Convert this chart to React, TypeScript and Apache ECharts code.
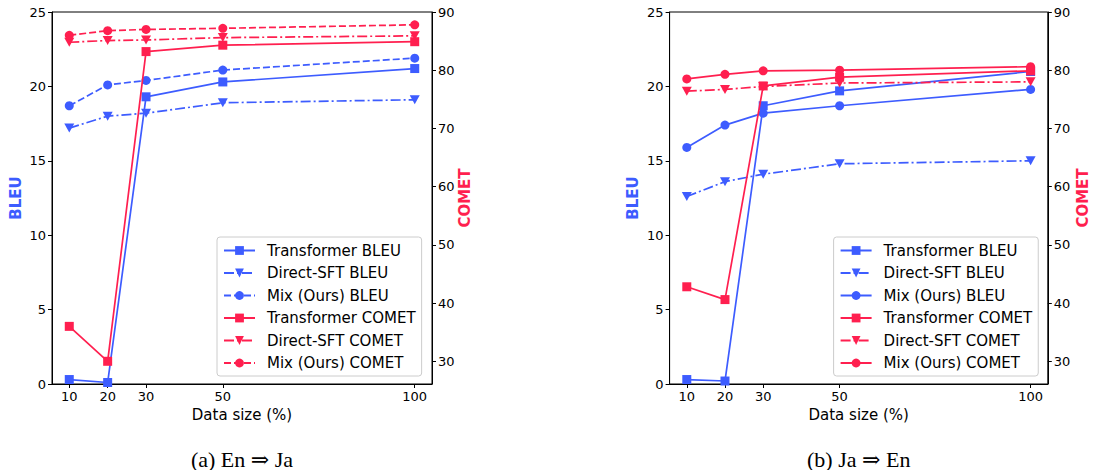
import React, { useEffect, useRef } from 'react';
import * as echarts from 'echarts';

// ---------- data ----------
const dataSizes = [10, 20, 30, 50, 100];
const xTickValues = [10, 20, 30, 50, 100];
const cometTickValues = [30, 40, 50, 60, 70, 80, 90];

const seriesNames = [
  'Transformer BLEU',
  'Direct-SFT BLEU',
  'Mix (Ours) BLEU',
  'Transformer COMET',
  'Direct-SFT COMET',
  'Mix (Ours) COMET',
];

// (a) En => Ja
const enJaTransformerBleu = [0.3, 0.1, 19.3, 20.3, 21.2];
const enJaDirectSftBleu = [17.2, 18.0, 18.2, 18.9, 19.1];
const enJaMixBleu = [18.7, 20.1, 20.4, 21.1, 21.9];
const enJaTransformerComet = [36.0, 30.0, 83.2, 84.3, 84.9];
const enJaDirectSftComet = [84.8, 85.1, 85.2, 85.6, 85.9];
const enJaMixComet = [86.0, 86.8, 87.0, 87.2, 87.8];

// (b) Ja => En
const jaEnTransformerBleu = [0.3, 0.2, 18.7, 19.7, 21.0];
const jaEnDirectSftBleu = [12.6, 13.6, 14.1, 14.8, 15.0];
const jaEnMixBleu = [15.9, 17.4, 18.2, 18.7, 19.8];
const jaEnTransformerComet = [42.8, 40.6, 77.3, 78.8, 79.9];
const jaEnDirectSftComet = [76.4, 76.7, 77.2, 77.8, 78.0];
const jaEnMixComet = [78.5, 79.3, 79.9, 80.0, 80.6];

// ---------- styles ----------
const BLUE = '#3d5cff';
const RED = '#ff1f4f';
const FONT = "'DejaVu Sans', sans-serif";
const SOLID: any = 'solid';
const DASHED: any = [7, 3];
const DASHDOT: any = [10, 3, 2, 3];
const DOWN_TRI = 'path://M0,0 L10,0 L5,9 Z';

type PanelCfg = {
  gridLeft: number;
  gridWidth: number;
  bleuLabelX: number;
  cometLabelX: number;
  legendLeft: number;
  caption: string;
  values: number[][];
  mixBleuStyle: any;
  mixCometStyle: any;
};

function makeOption(cfg: PanelCfg) {
  const cx = cfg.gridLeft + cfg.gridWidth / 2;
  const styles = [
    { color: BLUE, type: SOLID, symbol: 'rect', size: 9, axis: 0 },
    { color: BLUE, type: DASHDOT, symbol: DOWN_TRI, size: [10, 9], axis: 0 },
    { color: BLUE, type: cfg.mixBleuStyle, symbol: 'circle', size: 9, axis: 0 },
    { color: RED, type: SOLID, symbol: 'rect', size: 9, axis: 1 },
    { color: RED, type: DASHDOT, symbol: DOWN_TRI, size: [10, 9], axis: 1 },
    { color: RED, type: cfg.mixCometStyle, symbol: 'circle', size: 9, axis: 1 },
  ];
  return {
    animation: false,
    textStyle: { fontFamily: FONT },
    grid: {
      left: cfg.gridLeft,
      top: 12,
      width: cfg.gridWidth,
      height: 372,
      show: true,
      borderColor: '#000',
      borderWidth: 1,
      backgroundColor: 'transparent',
      containLabel: false,
    },
    xAxis: {
      type: 'value',
      min: 5.5,
      max: 104.5,
      splitLine: { show: false },
      axisLine: { show: true, onZero: false, lineStyle: { color: '#000', width: 1 } },
      axisTick: { show: true, length: 4, customValues: xTickValues, lineStyle: { color: '#000' } },
      axisLabel: { customValues: xTickValues, color: '#000', fontSize: 13, margin: 6, fontFamily: FONT },
    },
    yAxis: [
      {
        type: 'value',
        min: 0,
        max: 25,
        interval: 5,
        position: 'left',
        splitLine: { show: false },
        axisLine: { show: true, lineStyle: { color: '#000', width: 1 } },
        axisTick: { show: true, length: 4, lineStyle: { color: '#000' } },
        axisLabel: { color: '#000', fontSize: 13, margin: 6, fontFamily: FONT },
      },
      {
        type: 'value',
        min: 26.1,
        max: 90,
        position: 'right',
        splitLine: { show: false },
        axisLine: { show: true, lineStyle: { color: '#000', width: 1 } },
        axisTick: { show: true, length: 4, customValues: cometTickValues, lineStyle: { color: '#000' } },
        axisLabel: { customValues: cometTickValues, color: '#000', fontSize: 13, margin: 6, fontFamily: FONT },
      },
    ],
    legend: {
      orient: 'vertical',
      left: cfg.legendLeft,
      top: 237,
      data: seriesNames,
      itemWidth: 31,
      itemHeight: 11,
      itemGap: 7.5,
      padding: [6, 6, 5.5, 6],
      backgroundColor: 'rgba(255,255,255,0.8)',
      borderColor: '#cccccc',
      borderWidth: 1,
      borderRadius: 3,
      selectedMode: false,
      textStyle: { fontSize: 15, lineHeight: 15, color: '#000', fontFamily: FONT, padding: [0, 0, 0, 7] },
    },
    graphic: [
      {
        type: 'text',
        x: cfg.bleuLabelX,
        y: 198,
        rotation: Math.PI / 2,
        style: { text: 'BLEU', fill: BLUE, font: `bold 15px ${FONT}`, align: 'center', verticalAlign: 'middle' },
      },
      {
        type: 'text',
        x: cfg.cometLabelX,
        y: 198,
        rotation: Math.PI / 2,
        style: { text: 'COMET', fill: RED, font: `bold 15px ${FONT}`, align: 'center', verticalAlign: 'middle' },
      },
      {
        type: 'text',
        x: cx,
        y: 415,
        style: { text: 'Data size (%)', fill: '#000', font: `15px ${FONT}`, align: 'center', verticalAlign: 'middle' },
      },
      {
        type: 'text',
        x: cx,
        y: 459,
        style: {
          text: cfg.caption,
          fill: '#000',
          font: "22px 'Liberation Serif', 'DejaVu Serif', serif",
          lineHeight: 20,
          align: 'center',
          verticalAlign: 'middle',
        },
      },
    ],
    series: styles.map((s, i) => ({
      name: seriesNames[i],
      type: 'line',
      yAxisIndex: s.axis,
      data: dataSizes.map((x, j) => [x, cfg.values[i][j]]),
      symbol: s.symbol,
      symbolSize: s.size,
      showSymbol: true,
      clip: false,
      itemStyle: { color: s.color, borderWidth: 0 },
      lineStyle: { color: s.color, width: 1.7, type: s.type },
      z: 2 + i,
    })),
  };
}

const panelA: PanelCfg = {
  gridLeft: 52,
  gridWidth: 380,
  bleuLabelX: 16,
  cometLabelX: 465,
  legendLeft: 217,
  caption: '(a) En \u21D2 Ja',
  values: [enJaTransformerBleu, enJaDirectSftBleu, enJaMixBleu, enJaTransformerComet, enJaDirectSftComet, enJaMixComet],
  mixBleuStyle: DASHED,
  mixCometStyle: DASHED,
};

const panelB: PanelCfg = {
  gridLeft: 122.6,
  gridWidth: 378.2,
  bleuLabelX: 86,
  cometLabelX: 535.7,
  legendLeft: 286.6,
  caption: '(b) Ja \u21D2 En',
  values: [jaEnTransformerBleu, jaEnDirectSftBleu, jaEnMixBleu, jaEnTransformerComet, jaEnDirectSftComet, jaEnMixComet],
  mixBleuStyle: SOLID,
  mixCometStyle: SOLID,
};

function Panel({ cfg, left }: { cfg: PanelCfg; left: number }) {
  const ref = useRef<HTMLDivElement>(null);
  useEffect(() => {
    if (!ref.current) return;
    const chart = echarts.init(ref.current, undefined, { renderer: 'svg' });
    chart.setOption(makeOption(cfg) as any);
    return () => chart.dispose();
  }, [cfg]);
  return <div ref={ref} style={{ position: 'absolute', left, top: 0, width: 547, height: 470 }} />;
}

export default function App() {
  return (
    <div style={{ position: 'absolute', left: 0, top: 0, width: 1094, height: 470, background: '#fff' }}>
      <Panel cfg={panelA} left={0} />
      <Panel cfg={panelB} left={547} />
    </div>
  );
}
